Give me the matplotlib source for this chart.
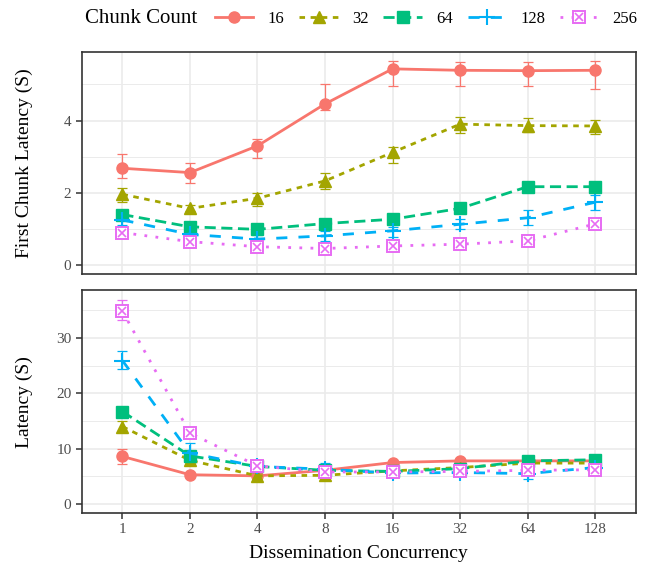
import matplotlib
matplotlib.use("Agg")
import matplotlib.pyplot as plt
from matplotlib.legend_handler import HandlerTuple

plt.rcParams['font.family'] = ['Liberation Serif', 'DejaVu Serif']

concurrency = ["1", "2", "4", "8", "16", "32", "64", "128"]
chunk_counts = ["16", "32", "64", "128", "256"]

# first chunk latency (s): mean, low, high
first_16 = [2.68, 2.56, 3.30, 4.46, 5.43, 5.39, 5.38, 5.39]
first_16_lo = [2.42, 2.26, 2.96, 4.29, 4.95, 4.95, 4.95, 4.87]
first_16_hi = [3.07, 2.82, 3.48, 5.00, 5.65, 5.61, 5.61, 5.65]
first_32 = [1.96, 1.57, 1.85, 2.33, 3.12, 3.90, 3.86, 3.85]
first_32_lo = [1.74, 1.50, 1.63, 2.12, 2.83, 3.66, 3.69, 3.62]
first_32_hi = [2.14, 1.65, 1.99, 2.54, 3.28, 4.09, 4.06, 4.02]
first_64 = [1.40, 1.06, 0.99, 1.15, 1.27, 1.57, 2.17, 2.17]
first_64_lo = [1.33, 1.00, 0.94, 1.10, 1.21, 1.52, 2.12, 2.12]
first_64_hi = [1.47, 1.11, 1.04, 1.20, 1.32, 1.62, 2.22, 2.22]
first_128 = [1.25, 0.85, 0.72, 0.81, 0.95, 1.13, 1.31, 1.74]
first_128_lo = [1.11, 0.72, 0.62, 0.66, 0.77, 1.00, 1.11, 1.52]
first_128_hi = [1.41, 0.98, 0.82, 0.94, 1.06, 1.29, 1.52, 1.94]
first_256 = [0.90, 0.65, 0.51, 0.46, 0.53, 0.58, 0.67, 1.14]
first_256_lo = [0.84, 0.60, 0.46, 0.41, 0.48, 0.53, 0.62, 1.08]
first_256_hi = [0.96, 0.70, 0.56, 0.51, 0.58, 0.63, 0.72, 1.20]

# total latency (s)
total_16 = [8.6, 5.3, 5.1, 6.1, 7.5, 7.8, 7.8, 7.8]
total_16_lo = [7.3, 5.0, 4.8, 5.8, 7.2, 7.5, 7.5, 7.5]
total_16_hi = [10.0, 5.6, 5.4, 6.4, 7.8, 8.1, 8.1, 8.1]
total_32 = [14.0, 7.9, 5.1, 5.2, 6.0, 6.6, 7.4, 7.4]
total_32_lo = [13.0, 7.4, 4.8, 4.9, 5.7, 6.3, 7.1, 7.1]
total_32_hi = [15.0, 8.4, 5.4, 5.5, 6.3, 6.9, 7.7, 7.7]
total_64 = [16.7, 8.7, 6.8, 6.1, 5.9, 6.4, 7.8, 8.0]
total_64_lo = [16.0, 8.3, 6.5, 5.8, 5.6, 6.1, 7.5, 7.7]
total_64_hi = [17.4, 9.1, 7.1, 6.4, 6.2, 6.7, 8.1, 8.3]
total_128 = [25.9, 9.2, 6.8, 6.3, 5.6, 5.7, 5.5, 6.6]
total_128_lo = [24.4, 8.0, 6.4, 5.6, 5.3, 5.4, 4.5, 6.2]
total_128_hi = [27.6, 11.0, 7.2, 7.5, 5.9, 6.0, 6.5, 7.0]
total_256 = [34.8, 12.8, 6.9, 5.8, 5.8, 5.9, 6.1, 6.2]
total_256_lo = [33.3, 12.4, 6.6, 5.5, 5.5, 5.6, 5.8, 5.9]
total_256_hi = [36.9, 13.2, 7.2, 6.1, 6.1, 6.2, 6.4, 6.5]

first_data = [(first_16, first_16_lo, first_16_hi), (first_32, first_32_lo, first_32_hi),
              (first_64, first_64_lo, first_64_hi), (first_128, first_128_lo, first_128_hi),
              (first_256, first_256_lo, first_256_hi)]
total_data = [(total_16, total_16_lo, total_16_hi), (total_32, total_32_lo, total_32_hi),
              (total_64, total_64_lo, total_64_hi), (total_128, total_128_lo, total_128_hi),
              (total_256, total_256_lo, total_256_hi)]

colors = ["#F8766D", "#A3A500", "#00BF7D", "#00B0F6", "#E76BF3"]
dashes = [None, (2, 2), (4, 2), (4, 4), (1, 3)]
markers = ["o", "^", "s", "+", "s"]
LW = 2.0

fig = plt.figure(figsize=(6.5, 5.7), dpi=100)
ax1 = fig.add_axes([0.126, 0.519, 0.852, 0.390])
ax2 = fig.add_axes([0.126, 0.100, 0.852, 0.391])

x = list(range(len(concurrency)))


def draw(ax, data):
    handles = []
    for i, (vals, lo, hi) in enumerate(data):
        c = colors[i]
        yerr = [[v - l for v, l in zip(vals, lo)], [h - v for v, h in zip(vals, hi)]]
        ax.errorbar(x, vals, yerr=yerr, fmt="none", ecolor=c, elinewidth=0.9,
                    capsize=3.5, capthick=0.9, zorder=3)
        kw = dict(color=c, lw=LW, zorder=4)
        if dashes[i] is not None:
            kw["linestyle"] = (0, dashes[i])
        if i == 4:
            ln, = ax.plot(x, vals, marker="s", ms=8, mfc="white", mec=c, mew=1.4, **kw)
            mx, = ax.plot(x, vals, ls="none", marker="x", ms=6, mec=c, mew=1.2, zorder=5)
            handles.append((ln, mx))
        elif markers[i] == "+":
            ln, = ax.plot(x, vals, marker="+", ms=12, mew=1.5, **kw)
            handles.append(ln)
        else:
            ms = 8 if markers[i] != "^" else 8.5
            ln, = ax.plot(x, vals, marker=markers[i], ms=ms, mec=c, **kw)
            handles.append(ln)
    return handles


def style(ax, yticks, yminor):
    ax.set_xlim(-0.6, 7.6)
    ax.set_xticks(x)
    ax.set_yticks(yticks)
    ax.set_yticks(yminor, minor=True)
    ax.grid(True, which="major", color="#EBEBEB", lw=1.2, zorder=0)
    ax.grid(True, which="minor", axis="y", color="#EBEBEB", lw=0.7, zorder=0)
    ax.set_axisbelow(True)
    for s in ax.spines.values():
        s.set_color("#333333")
        s.set_linewidth(1.2)
    ax.tick_params(axis="both", which="major", length=4, width=1.1, color="#333333",
                   labelcolor="#4D4D4D", labelsize=11)
    ax.tick_params(axis="both", which="minor", length=0)


handles = draw(ax1, first_data)
draw(ax2, total_data)

style(ax1, [0, 2, 4], [1, 3, 5])
ax1.set_ylim(-0.25, 5.9)
ax1.tick_params(axis="x", which="both", length=0, labelbottom=False)
ax1.set_ylabel("First Chunk Latency (S)", fontsize=14)
ax1.yaxis.set_label_coords(-0.088, 0.5)

style(ax2, [0, 10, 20, 30], [5, 15, 25, 35])
ax2.set_ylim(-1.6, 38.6)
ax2.set_xticklabels(concurrency)
ax2.set_ylabel("Latency (S)", fontsize=14)
ax2.yaxis.set_label_coords(-0.088, 0.5)
ax2.set_xlabel("Dissemination Concurrency", fontsize=14, labelpad=6)

fig.text(0.131, 0.967, "Chunk Count", fontsize=15, va="center", ha="left")
fig.legend(handles, chunk_counts, loc="center left", bbox_to_anchor=(0.331, 0.967),
           ncol=5, frameon=False, fontsize=12, handlelength=2.3, columnspacing=0.9,
           handletextpad=0.85, borderaxespad=0, borderpad=0,
           handler_map={tuple: HandlerTuple(ndivide=1)})

fig.savefig("out.png", dpi=100)
